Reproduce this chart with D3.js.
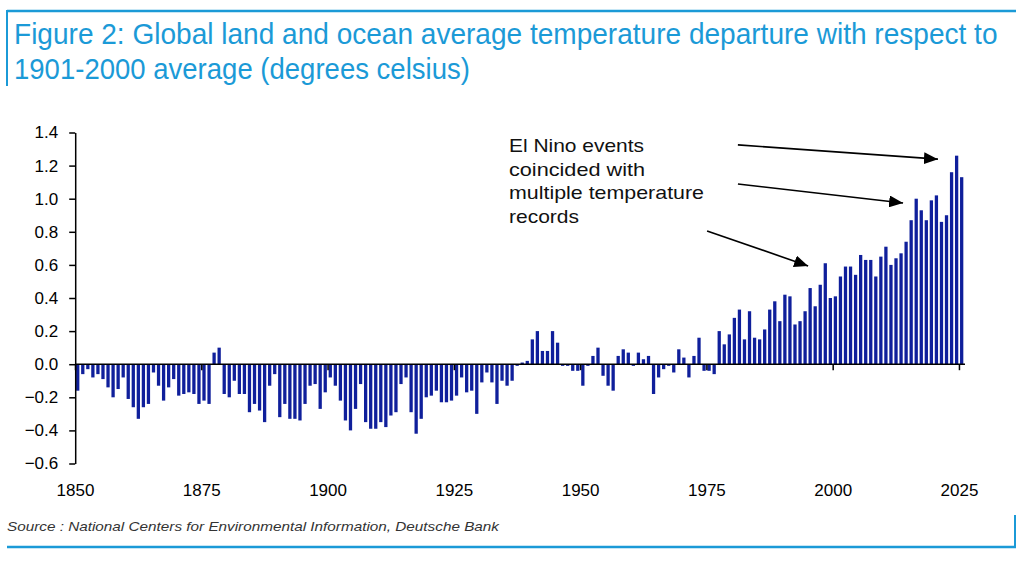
<!DOCTYPE html>
<html lang="en">
  <head>
    <meta charset="UTF-8" />
    <title>Global land and ocean temperature departure</title>
    <script src="https://d3js.org/d3.v7.min.js"></script>
    <style>
      body { margin: 0; background: #ffffff; }
      text { font-family: "Liberation Sans", Arial, sans-serif; }
    </style>
  </head>
  <body>
    <div id="viz"></div>
    <script>
      // years 1850..2025 (2025 = year to date)
      const years = d3.range(1850, 2026);

      // anomaly vs 1901-2000 average, degrees C
      const anomaly = [
        -0.16, -0.06, -0.03, -0.08, -0.06, -0.09, -0.14, -0.20, -0.15, -0.08,
        -0.21, -0.26, -0.33, -0.26, -0.24, -0.05, -0.13, -0.22, -0.14, -0.09,
        -0.19, -0.18, -0.17, -0.18, -0.24, -0.22, -0.24, 0.07, 0.10, -0.18,
        -0.20, -0.10, -0.18, -0.18, -0.29, -0.24, -0.28, -0.35, -0.13, -0.06,
        -0.32, -0.24, -0.33, -0.33, -0.34, -0.24, -0.13, -0.12, -0.27, -0.17,
        -0.08, -0.13, -0.22, -0.34, -0.40, -0.27, -0.12, -0.35, -0.39, -0.39,
        -0.35, -0.38, -0.31, -0.29, -0.12, -0.08, -0.29, -0.42, -0.33, -0.20,
        -0.19, -0.16, -0.23, -0.23, -0.22, -0.19, -0.08, -0.17, -0.16, -0.30,
        -0.11, -0.05, -0.11, -0.24, -0.10, -0.13, -0.10, -0.01, 0.01, 0.02,
        0.15, 0.20, 0.08, 0.08, 0.20, 0.13, -0.01, -0.01, -0.04, -0.04,
        -0.13, -0.01, 0.05, 0.10, -0.07, -0.13, -0.16, 0.05, 0.09, 0.07,
        -0.01, 0.07, 0.03, 0.05, -0.18, -0.08, -0.03, -0.01, -0.05, 0.09,
        0.04, -0.08, 0.05, 0.16, -0.04, -0.04, -0.06, 0.20, 0.12, 0.18,
        0.28, 0.33, 0.15, 0.32, 0.16, 0.15, 0.21, 0.33, 0.38, 0.26,
        0.42, 0.41, 0.24, 0.26, 0.32, 0.46, 0.35, 0.48, 0.61, 0.40,
        0.41, 0.53, 0.59, 0.59, 0.54, 0.66, 0.63, 0.63, 0.53, 0.65,
        0.71, 0.60, 0.64, 0.67, 0.74, 0.87, 1.00, 0.93, 0.87, 0.99,
        1.02, 0.86, 0.90, 1.16, 1.26, 1.13
      ];

      const yTicks = [-0.6, -0.4, -0.2, 0.0, 0.2, 0.4, 0.6, 0.8, 1.0, 1.2, 1.4];
      const xTicks = [1850, 1875, 1900, 1925, 1950, 1975, 2000, 2025];

      const titleLines = [
        "Figure 2: Global land and ocean average temperature departure with respect to",
        "1901-2000 average (degrees celsius)"
      ];
      const noteLines = ["El Nino events", "coincided with", "multiple temperature", "records"];
      const source = "Source : National Centers for Environmental Information, Deutsche Bank";

      // arrows in data space: [year, value] start -> end
      const arrows = [
        [[1980.7, 1.325], [2020.3, 1.239]],
        [[1980.7, 1.089], [2013.4, 0.974]],
        [[1974.6, 0.805], [1994.6, 0.594]]
      ];

      const W = 1024, H = 564;
      const blue = "#1b9ad7";

      const svg = d3.select("#viz").append("svg")
        .attr("width", W).attr("height", H);

      // frame rules
      svg.append("line").attr("x1", 7).attr("x2", 1016).attr("y1", 11).attr("y2", 11)
        .attr("stroke", blue).attr("stroke-width", 2.5);
      svg.append("line").attr("x1", 7).attr("x2", 7).attr("y1", 10).attr("y2", 86)
        .attr("stroke", blue).attr("stroke-width", 2);
      svg.append("line").attr("x1", 7).attr("x2", 1016).attr("y1", 547).attr("y2", 547)
        .attr("stroke", blue).attr("stroke-width", 2.5);
      svg.append("line").attr("x1", 1015).attr("x2", 1015).attr("y1", 515).attr("y2", 548)
        .attr("stroke", blue).attr("stroke-width", 2);

      // title: condensed by a horizontal scale so the lines fit their widths
      const titleWidths = [984, 456];
      svg.selectAll("text.title").data(titleLines).join("text")
        .attr("class", "title")
        .attr("fill", blue)
        .attr("font-size", 29)
        .text(d => d)
        .attr("transform", function (d, i) {
          const s = titleWidths[i] / this.getComputedTextLength();
          return "translate(14," + (43.5 + i * 35) + ") scale(" + s + ",1)";
        });

      // scales
      const x = d3.scaleBand().domain(years).range([75.2, 964.2]).paddingInner(0.35).paddingOuter(0.175);
      const step = x.step();
      const y = d3.scaleLinear().domain([-0.6, 1.4]).range([463.5, 132.5]);
      const xc = d3.scaleLinear()
        .domain([1850, 2025])
        .range([x(1850) + x.bandwidth() / 2, x(2025) + x.bandwidth() / 2]);

      // bars
      svg.append("g").selectAll("rect").data(years).join("rect")
        .attr("x", d => x(d))
        .attr("width", x.bandwidth())
        .attr("y", (d, i) => y(Math.max(0, anomaly[i])))
        .attr("height", (d, i) => Math.abs(y(anomaly[i]) - y(0)))
        .attr("fill", "#0f1f9b");

      // y axis
      const yAxis = svg.append("g")
        .attr("transform", "translate(75.2,0)")
        .call(d3.axisLeft(y).tickValues(yTicks).tickFormat(d3.format(".1f"))
          .tickSize(6).tickSizeOuter(0).tickPadding(11));
      yAxis.select(".domain").attr("stroke", "#000").attr("stroke-width", 1.5);
      yAxis.selectAll(".tick line").attr("stroke", "#000").attr("stroke-width", 1.5);
      yAxis.selectAll(".tick text").attr("font-size", 17).attr("fill", "#000")
        .attr("font-family", "Liberation Sans, Arial, sans-serif");

      // x axis on the zero line, labels down at the bottom
      const xAxis = svg.append("g")
        .attr("transform", "translate(0," + y(0) + ")")
        .call(d3.axisBottom(x).tickValues(xTicks).tickSize(6).tickSizeOuter(0)
          .tickPadding(y(-0.6) - y(0) + 14));
      xAxis.selectAll(".tick").attr("transform", d => "translate(" + (x(d) - (step - x.bandwidth()) / 2 + 0.3) + ",0)");
      xAxis.select(".domain").attr("stroke", "#000").attr("stroke-width", 1.5)
        .attr("d", "M75.2,0H965");
      xAxis.selectAll(".tick line").attr("stroke", "#000").attr("stroke-width", 1.5);
      xAxis.selectAll(".tick text").attr("font-size", 17).attr("fill", "#000")
        .attr("font-family", "Liberation Sans, Arial, sans-serif");

      // annotation
      const noteWidths = [135, 136, 195, 70];
      svg.selectAll("text.note").data(noteLines).join("text")
        .attr("class", "note")
        .attr("x", 509)
        .attr("y", (d, i) => 151.7 + i * 23.8)
        .attr("font-size", 18.5)
        .attr("fill", "#111")
        .attr("textLength", (d, i) => noteWidths[i])
        .attr("lengthAdjust", "spacingAndGlyphs")
        .text(d => d);

      svg.append("defs").append("marker")
        .attr("id", "head")
        .attr("markerUnits", "userSpaceOnUse")
        .attr("viewBox", "0 0 14 12")
        .attr("refX", 14).attr("refY", 6)
        .attr("markerWidth", 14).attr("markerHeight", 12)
        .attr("orient", "auto")
        .append("path").attr("d", "M0,0L14,6L0,12Z").attr("fill", "#000");

      svg.append("g").selectAll("line").data(arrows).join("line")
        .attr("x1", d => xc(d[0][0])).attr("y1", d => y(d[0][1]))
        .attr("x2", d => xc(d[1][0])).attr("y2", d => y(d[1][1]))
        .attr("stroke", "#000").attr("stroke-width", 1.6)
        .attr("marker-end", "url(#head)");

      // source
      svg.append("text")
        .attr("x", 7).attr("y", 531)
        .attr("font-size", 13).attr("font-style", "italic").attr("fill", "#333")
        .attr("textLength", 492).attr("lengthAdjust", "spacingAndGlyphs")
        .text(source);
    </script>
  </body>
</html>
